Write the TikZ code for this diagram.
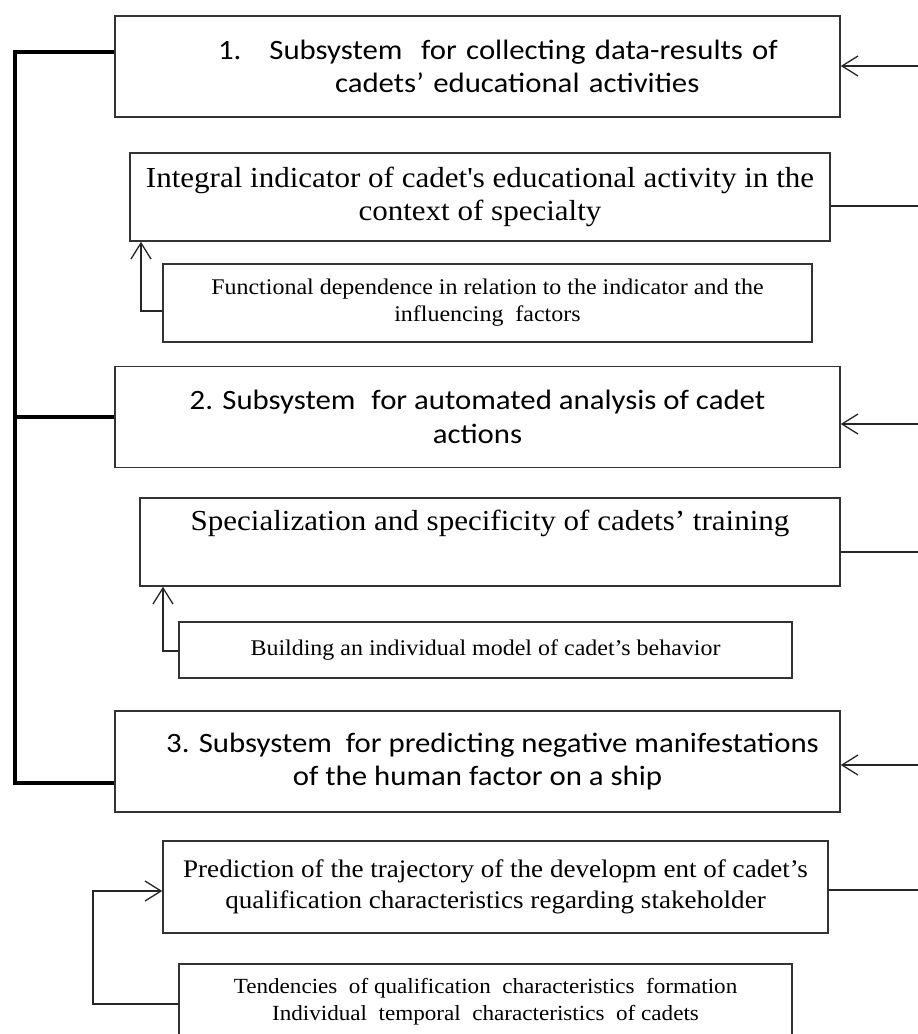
\documentclass[tikz,border=0pt]{standalone}
\usepackage{fontspec}
\usetikzlibrary{arrows.meta}
\newfontfamily\calfont[FakeStretch=1.1]{Carlito}
\newfontfamily\tmsfont[FakeStretch=1.07]{Liberation Serif}
\tikzset{
  box/.style={draw=black!80, line width=1.5pt, inner sep=0pt, align=center},
  sysbox/.style={box, minimum width=725pt, minimum height=101pt, font={\calfont\fontsize{28}{33.5}\selectfont}},
  bigbox/.style={box, font={\tmsfont\fontsize{29}{33}\selectfont}},
  smallbox/.style={box, font={\tmsfont\fontsize{22.4}{27}\selectfont}},
  midbox/.style={box, font={\tmsfont\fontsize{25.3}{31}\selectfont}},
  conn/.style={draw=black!85, line width=1.3pt},
  arr/.style={conn, -{Straight Barb[length=16pt,width=20pt,line width=1.3pt]}},
  bus/.style={draw=black, line width=4pt}
}
\begin{document}
\begin{tikzpicture}[x=1pt,y=-1pt]
\useasboundingbox (0,0) rectangle (918,1034);
\clip (0,0) rectangle (918,1034);
\fill[white] (0,0) rectangle (918,1034);

% main subsystem boxes
\node[sysbox, text width=725pt, align=left] (s1) at (477.5,66.5)
  {\hspace*{103pt}1.\hspace{28pt}Subsystem\ \ for collecting data-results of\\\hspace*{220pt}cadets’ educational activities};
\node[sysbox] (s2) at (477.5,417)
  {2. Subsystem\hspace{16pt}for automated analysis of cadet\\actions};
\node[sysbox] (s3) at (477.5,761.5)
  {\hspace*{30pt}3. Subsystem\ \ for predicting negative manifestations\\of the human factor on a ship};

% secondary boxes
\node[bigbox, minimum width=700pt, minimum height=88pt] (ind) at (480,197)
  {Integral indicator of cadet's educational activity in the\\context of specialty};
\node[smallbox, minimum width=649pt, minimum height=78pt] (fun) at (487.5,303)
  {Functional dependence in relation to the indicator and the\\influencing\ \ factors};
\node[bigbox, minimum width=700pt, minimum height=88pt] (spec) at (490,542)
  {Specialization and specificity of cadets’ training\\[0pt]\strut};
\node[smallbox, minimum width=613pt, minimum height=56pt] (bld) at (485.5,650)
  {Building an individual model of cadet’s behavior};
\node[midbox, minimum width=665pt, minimum height=92pt] (pred) at (495.5,887)
  {Prediction of the trajectory of the developm ent of cadet’s\\qualification characteristics regarding stakeholder};
\node[smallbox, minimum width=613pt, minimum height=76pt, font={\tmsfont\fontsize{21.6}{27}\selectfont}] (tend) at (485.5,1002)
  {Tendencies\ \ of qualification\ \ characteristics\ \ formation\\Individual\ \ temporal\ \ characteristics\ \ of cadets};

% right-hand inputs and outputs
\coordinate (r1) at (918,66);
\coordinate (r2) at (918,424);
\coordinate (r3) at (918,765);
\coordinate (o1) at (918,206);
\coordinate (o2) at (918,552);
\coordinate (o3) at (918,890);
\draw[arr] (r1) -- (r1 -| s1.east);
\draw[arr] (r2) -- (r2 -| s2.east);
\draw[arr] (r3) -- (r3 -| s3.east);
\draw[conn] (o1 -| ind.east) -- (o1);
\draw[conn] (o2 -| spec.east) -- (o2);
\draw[conn] (o3 -| pred.east) -- (o3);

% feedback connectors
\coordinate (f1) at (141,311);
\coordinate (f2) at (163,651);
\coordinate (f3) at (93,1004);
\coordinate (f4) at (93,891);
\draw[arr] (fun.west |- f1) -- (f1) -- (f1 |- ind.south);
\draw[arr] (bld.west |- f2) -- (f2) -- (f2 |- spec.south);
\draw[arr] (tend.west |- f3) -- (f3) -- (f4) -- (f4 -| pred.west);

% thick bus on the left
\coordinate (bt) at (15,52);
\coordinate (bm) at (15,417);
\coordinate (bb) at (15,783);
\draw[bus] (bt -| s1.west) -- (bt) -- (bb) -- (bb -| s3.west);
\draw[bus] (bm) -- (bm -| s2.west);
\end{tikzpicture}
\end{document}
